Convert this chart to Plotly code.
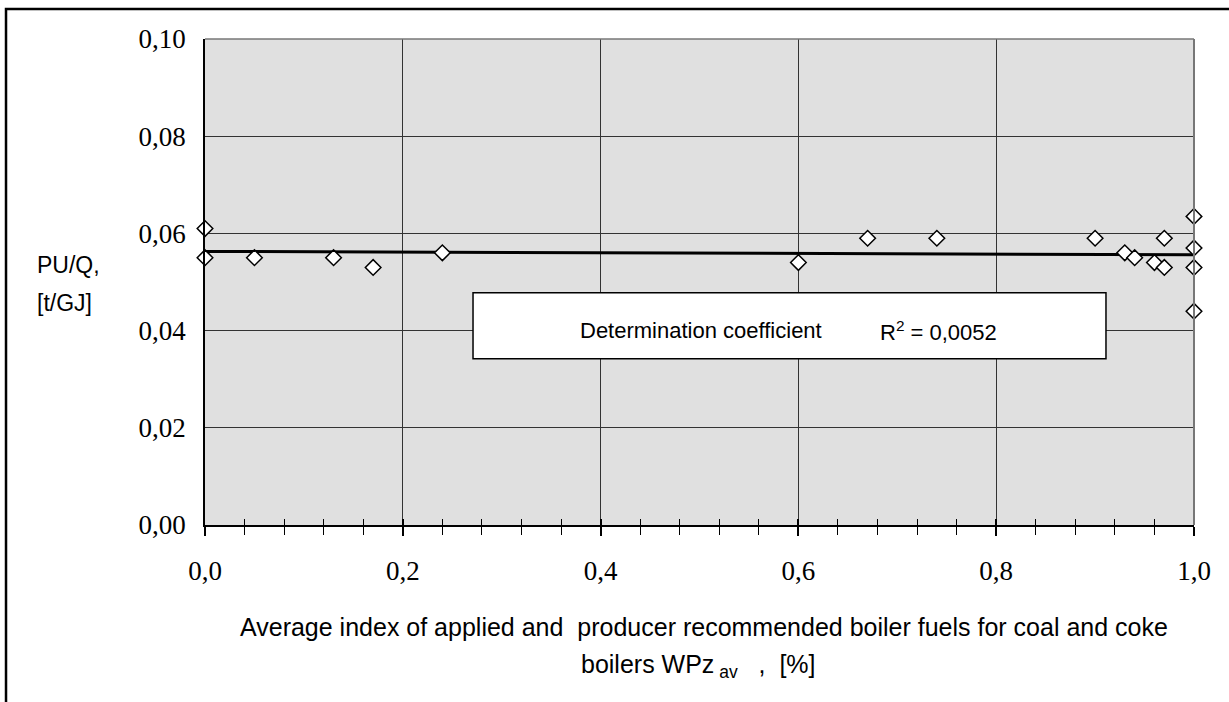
import plotly.graph_objects as go

# Data
wpz = [0.0, 0.0, 0.05, 0.13, 0.17, 0.24, 0.60, 0.67, 0.74, 0.90, 0.93, 0.94,
       0.96, 0.97, 0.97, 1.0, 1.0, 1.0, 1.0]
puq = [0.061, 0.055, 0.055, 0.055, 0.053, 0.056, 0.054, 0.059, 0.059, 0.059,
       0.056, 0.055, 0.054, 0.053, 0.059, 0.0635, 0.057, 0.053, 0.044]
trend_x = [0.0, 1.0]
trend_y = [0.0563, 0.0556]
x_ticks = [0.0, 0.2, 0.4, 0.6, 0.8, 1.0]
y_ticks = [0.00, 0.02, 0.04, 0.06, 0.08, 0.10]

SANS = "Liberation Sans, Arial, sans-serif"
SERIF = "Liberation Serif, Times New Roman, serif"

fig = go.Figure()
fig.add_trace(go.Scatter(x=trend_x, y=trend_y, mode="lines",
                         line=dict(color="black", width=3), hoverinfo="skip",
                         showlegend=False))
fig.add_trace(go.Scatter(x=wpz, y=puq, mode="markers", cliponaxis=False,
                         marker=dict(symbol="diamond", size=12, color="white",
                                     line=dict(color="black", width=1.5)),
                         showlegend=False))
# invisible trace to activate overlay axis for crossing ticks
fig.add_trace(go.Scatter(x=trend_x, y=trend_y, xaxis="x2", mode="lines",
                         line=dict(width=0), opacity=0, hoverinfo="skip",
                         showlegend=False))

fig.update_layout(
    width=1229, height=702,
    margin=dict(l=205, r=35, t=39, b=177),
    paper_bgcolor="white", plot_bgcolor="#e0e0e0",
    separators=",.",
    xaxis=dict(range=[0, 1], tickvals=x_ticks, tickformat=".1f",
               showgrid=True, gridcolor="#333333", gridwidth=1,
               zeroline=False, showline=True, linecolor="black", linewidth=1.5,
               ticks="outside", ticklen=9, tickcolor="black", tickwidth=1.5,
               minor=dict(dtick=0.04, ticks="outside", ticklen=8,
                          tickcolor="black", tickwidth=1.2, showgrid=False),
               ticklabelstandoff=12,
               tickfont=dict(family=SERIF, size=27, color="black")),
    xaxis2=dict(range=[0, 1], overlaying="x", anchor="y", side="bottom",
                tickvals=x_ticks, showticklabels=False, showgrid=False,
                zeroline=False, showline=False,
                ticks="inside", ticklen=6, tickcolor="black", tickwidth=1.5,
                minor=dict(dtick=0.04, ticks="inside", ticklen=6,
                           tickcolor="black", tickwidth=1.2, showgrid=False)),
    yaxis=dict(range=[0, 0.1], tickvals=y_ticks, tickformat=".2f",
               showgrid=True, gridcolor="#333333", gridwidth=1,
               zeroline=False, showline=True, linecolor="black", linewidth=1.5,
               ticks="", ticklabelstandoff=12,
               tickfont=dict(family=SERIF, size=27, color="black")),
    shapes=[
        dict(type="rect", xref="x", yref="y", x0=0.271, x1=0.911,
             y0=0.0342, y1=0.0478, fillcolor="white",
             line=dict(color="black", width=1.5), layer="above"),
        dict(type="line", xref="paper", yref="paper", x0=0, x1=1, y0=1, y1=1,
             line=dict(color="#777777", width=1.5)),
        dict(type="line", xref="paper", yref="paper", x0=1, x1=1, y0=0, y1=1,
             line=dict(color="#777777", width=2)),
        dict(type="rect", xref="paper", yref="paper", x0=-0.2012, x1=1.2,
             y0=-0.6, y1=1.0617, line=dict(color="black", width=2.5),
             fillcolor="rgba(0,0,0,0)", layer="below"),
    ],
    annotations=[
        dict(text="Determination coefficient", xref="x", yref="y",
             x=0.377, y=0.0400, xanchor="left", yanchor="middle",
             showarrow=False, font=dict(family=SANS, size=22, color="black")),
        dict(text="R<sup>2</sup> = 0,0052", xref="x", yref="y",
             x=0.680, y=0.0400, xanchor="left", yanchor="middle",
             showarrow=False, font=dict(family=SANS, size=22, color="black")),
        dict(text="PU/Q,", xref="paper", yref="paper",
             x=-0.172, y=(525 - 265) / 486, xanchor="left", yanchor="middle",
             showarrow=False, font=dict(family=SANS, size=23, color="black")),
        dict(text="[t/GJ]", xref="paper", yref="paper",
             x=-0.172, y=(525 - 303) / 486, xanchor="left", yanchor="middle",
             showarrow=False, font=dict(family=SANS, size=23, color="black")),
        dict(text="Average index of applied and  producer recommended boiler fuels for coal and coke",
             xref="paper", yref="paper", x=(704 - 205) / 989, y=(525 - 627) / 486,
             xanchor="center", yanchor="middle", showarrow=False,
             font=dict(family=SANS, size=25, color="black")),
        dict(text="boilers WPz<sub> av</sub>   ,  [%]",
             xref="paper", yref="paper", x=(698 - 205) / 989, y=(525 - 666) / 486,
             xanchor="center", yanchor="middle", showarrow=False,
             font=dict(family=SANS, size=25, color="black")),
    ],
)

fig.write_html("out.html", config={"displayModeBar": False},
               post_script="document.body.style.margin='0';")
